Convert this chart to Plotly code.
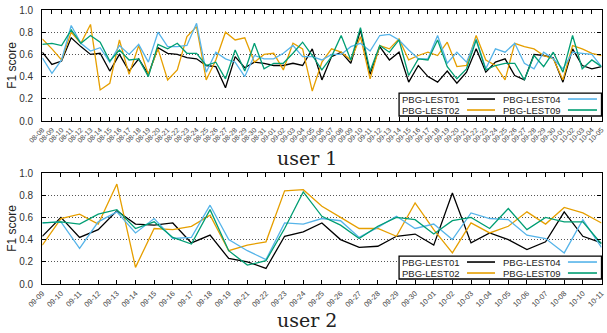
import plotly.graph_objects as go

# ---------------- data ----------------
u1_dates = ["08-08", "08-09", "08-10", "08-11", "08-12", "08-13", "08-14", "08-15", "08-16", "08-17",
            "08-18", "08-19", "08-20", "08-21", "08-22", "08-23", "08-24", "08-25", "08-26", "08-27",
            "08-28", "08-29", "08-30", "08-31", "09-01", "09-02", "09-03", "09-04", "09-05", "09-06",
            "09-07", "09-08", "09-09", "09-10", "09-11", "09-12", "09-13", "09-14", "09-15", "09-16",
            "09-17", "09-18", "09-19", "09-20", "09-21", "09-22", "09-23", "09-24", "09-25", "09-26",
            "09-27", "09-28", "09-29", "09-30", "10-01", "10-02", "10-03", "10-04", "10-05"]

u1_lest01 = [0.62, 0.51, 0.54, 0.75, 0.67, 0.60, 0.61, 0.45, 0.60, 0.45, 0.56, 0.42, 0.66, 0.61, 0.60, 0.57, 0.56,
             0.50, 0.49, 0.30, 0.58, 0.48, 0.53, 0.52, 0.50, 0.50, 0.52, 0.50, 0.65, 0.37, 0.58, 0.62, 0.52, 0.82,
             0.42, 0.67, 0.55, 0.62, 0.35, 0.50, 0.40, 0.35, 0.45, 0.34, 0.44, 0.65, 0.44, 0.53, 0.56, 0.41, 0.37,
             0.60, 0.59, 0.57, 0.35, 0.65, 0.50, 0.47, 0.49]
u1_lest02 = [0.74, 0.65, 0.55, 0.80, 0.70, 0.87, 0.28, 0.34, 0.73, 0.42, 0.68, 0.42, 0.65, 0.37, 0.46, 0.76, 0.85,
             0.37, 0.55, 0.80, 0.73, 0.75, 0.53, 0.60, 0.61, 0.46, 0.70, 0.65, 0.27, 0.53, 0.65, 0.62, 0.55, 0.76,
             0.38, 0.68, 0.65, 0.74, 0.55, 0.59, 0.62, 0.59, 0.71, 0.49, 0.50, 0.77, 0.55, 0.50, 0.37, 0.70, 0.67,
             0.65, 0.59, 0.56, 0.37, 0.68, 0.65, 0.61, 0.59]
u1_lest04 = [0.57, 0.43, 0.55, 0.86, 0.70, 0.63, 0.66, 0.53, 0.68, 0.60, 0.69, 0.53, 0.80, 0.67, 0.67, 0.68, 0.88,
             0.44, 0.62, 0.56, 0.53, 0.40, 0.59, 0.56, 0.56, 0.61, 0.68, 0.58, 0.58, 0.55, 0.60, 0.60, 0.67, 0.70,
             0.63, 0.77, 0.78, 0.73, 0.64, 0.56, 0.56, 0.77, 0.52, 0.62, 0.53, 0.74, 0.47, 0.65, 0.62, 0.70, 0.52,
             0.47, 0.62, 0.56, 0.47, 0.62, 0.61, 0.60, 0.49]
u1_lest09 = [0.69, 0.70, 0.68, 0.82, 0.70, 0.77, 0.71, 0.54, 0.64, 0.55, 0.56, 0.40, 0.69, 0.65, 0.70, 0.61, 0.61,
             0.50, 0.53, 0.38, 0.64, 0.45, 0.70, 0.47, 0.52, 0.52, 0.61, 0.71, 0.59, 0.46, 0.58, 0.77, 0.55, 0.84,
             0.45, 0.68, 0.62, 0.73, 0.41, 0.56, 0.55, 0.73, 0.49, 0.38, 0.47, 0.73, 0.46, 0.50, 0.52, 0.52, 0.37,
             0.59, 0.49, 0.62, 0.44, 0.77, 0.47, 0.55, 0.49]

u2_dates = ["09-09", "09-10", "09-11", "09-12", "09-13", "09-14", "09-15", "09-16", "09-17", "09-18",
            "09-19", "09-21", "09-22", "09-23", "09-24", "09-25", "09-26", "09-27", "09-28", "09-29",
            "09-30", "10-01", "10-02", "10-03", "10-04", "10-05", "10-06", "10-07", "10-08", "10-10", "10-11"]

u2_lest01 = [0.43, 0.60, 0.42, 0.49, 0.66, 0.54, 0.53, 0.55, 0.37, 0.44, 0.23, 0.20, 0.14, 0.43, 0.47, 0.55,
             0.40, 0.33, 0.34, 0.43, 0.45, 0.35, 0.82, 0.37, 0.46, 0.40, 0.31, 0.38, 0.65, 0.43, 0.37]
u2_lest02 = [0.35, 0.59, 0.63, 0.54, 0.90, 0.15, 0.50, 0.49, 0.52, 0.62, 0.30, 0.35, 0.38, 0.84, 0.85, 0.70,
             0.60, 0.50, 0.50, 0.43, 0.73, 0.49, 0.28, 0.55, 0.46, 0.52, 0.65, 0.54, 0.69, 0.64, 0.55]
u2_lest04 = [0.55, 0.56, 0.32, 0.56, 0.65, 0.46, 0.59, 0.41, 0.42, 0.71, 0.40, 0.30, 0.22, 0.55, 0.54, 0.59,
             0.57, 0.42, 0.51, 0.61, 0.50, 0.54, 0.40, 0.64, 0.59, 0.58, 0.44, 0.41, 0.28, 0.58, 0.33]
u2_lest09 = [0.55, 0.56, 0.54, 0.63, 0.67, 0.50, 0.56, 0.42, 0.36, 0.67, 0.30, 0.17, 0.21, 0.50, 0.83, 0.61,
             0.53, 0.41, 0.52, 0.60, 0.58, 0.45, 0.57, 0.60, 0.50, 0.68, 0.49, 0.60, 0.56, 0.56, 0.36]

series_names = ["PBG-LEST01", "PBG-LEST02", "PBG-LEST04", "PBG-LEST09"]
series_colors = ["#000000", "#E69F00", "#56B4E9", "#009E73"]
y_ticks = [0.0, 0.2, 0.4, 0.6, 0.8, 1.0]
panel_titles = ["user 1", "user 2"]

u1_series = [u1_lest01, u1_lest02, u1_lest04, u1_lest09]
u2_series = [u2_lest01, u2_lest02, u2_lest04, u2_lest09]

# ---------------- figure ----------------
W, H = 607, 333
fig = go.Figure()

panels = [
    dict(dates=u1_dates, series=u1_series, xa="x", ya="y", xfont=7),
    dict(dates=u2_dates, series=u2_series, xa="x2", ya="y2", xfont=7.5),
]

for p in panels:
    for name, col, vals in zip(series_names, series_colors, p["series"]):
        fig.add_trace(go.Scatter(
            x=p["dates"], y=vals, mode="lines", name=name,
            line=dict(color=col, width=1.3), showlegend=False,
            xaxis=p["xa"], yaxis=p["ya"], hoverinfo="x+y+name"))

x_dom = [42.3 / W, 601.5 / W]
y_doms = [[1 - 121 / H, 1 - 10 / H], [1 - 284 / H, 1 - 173 / H]]

def xaxis_cfg(n, anchor, fs):
    return dict(
        domain=x_dom, type="category", range=[0, n - 1], anchor=anchor,
        tickangle=-45, tickfont=dict(family="Liberation Sans", size=fs, color="#444"),
        ticks="inside", ticklen=4, tickwidth=1, tickcolor="#000",
        showline=True, linecolor="#000", linewidth=1.3, mirror="allticks",
        showgrid=False, zeroline=False, ticklabelstandoff=1, automargin=False)

def yaxis_cfg(dom, anchor):
    return dict(
        domain=dom, range=[0, 1], anchor=anchor, tickvals=y_ticks, tickformat=".1f",
        tickfont=dict(family="Liberation Sans", size=10, color="#333"),
        ticks="inside", ticklen=4, tickwidth=1, tickcolor="#000",
        showline=True, linecolor="#000", linewidth=1.3, mirror="allticks",
        showgrid=True, gridcolor="#555", gridwidth=1, griddash="1px,2px",
        zeroline=False, ticklabelstandoff=6, automargin=False,
        title=dict(text="F1 score", font=dict(family="Liberation Sans", size=12, color="#222"),
                   standoff=0))

fig.update_layout(
    width=W, height=H, margin=dict(l=0, r=0, t=0, b=0),
    paper_bgcolor="white", plot_bgcolor="white",
    xaxis=xaxis_cfg(len(u1_dates), "y", panels[0]["xfont"]), yaxis=yaxis_cfg(y_doms[0], "x"),
    xaxis2=xaxis_cfg(len(u2_dates), "y2", panels[1]["xfont"]), yaxis2=yaxis_cfg(y_doms[1], "x2"),
    showlegend=False,
)

# panel titles below each plot
title_y = [1 - 158 / H, 1 - 320 / H]
for t, ty in zip(panel_titles, title_y):
    fig.add_annotation(text=t, xref="paper", yref="paper", x=0.505, y=ty,
                       xanchor="center", yanchor="middle", showarrow=False,
                       font=dict(family="DejaVu Serif", size=19, color="#222"))

# gnuplot-style key inside each panel (text then line sample), 2 columns
box = dict(x0=0.638, x1=1.0, y0=0.045, y1=0.252)
row_y = [0.198, 0.099]
col_text_right = [0.7506, 0.9311]
col_sample = [(0.7595, 0.8096), (0.940, 0.9919)]
for p in panels:
    xr, yr = p["xa"] + " domain", p["ya"] + " domain"
    fig.add_shape(type="rect", xref=xr, yref=yr, layer="above",
                  line=dict(color="#000", width=1.3), fillcolor="white", **box)
    for k, (name, col) in enumerate(zip(series_names, series_colors)):
        c, r = k // 2, k % 2
        fig.add_annotation(text=name, xref=xr, yref=yr, x=col_text_right[c], y=row_y[r],
                           xanchor="right", yanchor="middle", showarrow=False,
                           font=dict(family="Liberation Sans", size=9.5, color="#222"))
        fig.add_shape(type="line", xref=xr, yref=yr, layer="above",
                      x0=col_sample[c][0], x1=col_sample[c][1], y0=row_y[r], y1=row_y[r],
                      line=dict(color=col, width=1.6))

fig.write_html("out.html", config={"displayModeBar": False},
               post_script="document.body.style.margin='0';document.body.style.overflow='hidden';")
